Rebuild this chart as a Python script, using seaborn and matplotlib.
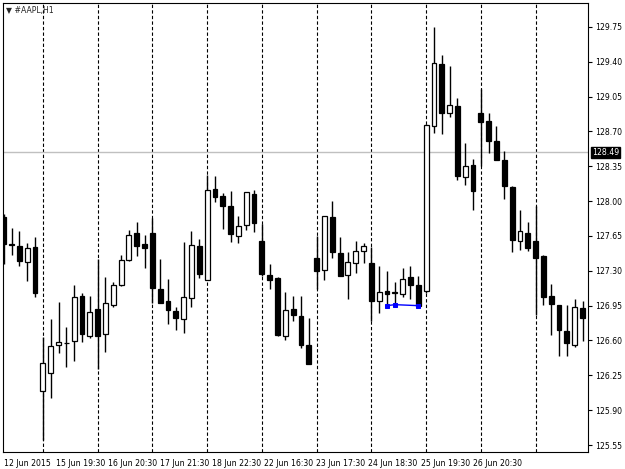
import numpy as np
import pandas as pd
import matplotlib
matplotlib.use("Agg")
import matplotlib.pyplot as plt
import seaborn as sns

opens = [127.84,127.57,127.55,127.39,127.54,126.09,126.27,126.55,126.57,126.59,
         127.05,126.65,126.92,126.67,126.96,127.16,127.41,127.68,127.57,127.68,
         127.12,127.00,126.90,126.82,127.03,127.55,127.21,128.12,128.05,127.95,
         127.65,127.76,128.07,127.60,127.26,127.23,126.65,126.92,126.85,126.55,
         127.43,127.31,127.84,127.48,127.26,127.38,127.50,127.38,127.00,127.10,
         127.08,127.07,127.24,127.16,127.10,128.75,129.38,128.89,128.96,128.24,
         128.36,128.89,128.80,128.60,128.41,128.14,127.60,127.68,127.60,127.45,
         127.05,126.96,126.70,126.55,126.93]
closes = [127.57,127.56,127.40,127.53,127.08,126.37,126.54,126.58,126.57,127.04,
          126.67,126.89,126.65,126.98,127.16,127.41,127.66,127.55,127.53,127.13,
          126.98,126.91,126.83,127.04,127.56,127.27,128.11,128.04,127.95,127.67,
          127.75,128.09,127.78,127.27,127.21,126.66,126.91,126.86,126.55,126.36,
          127.30,127.85,127.49,127.25,127.39,127.50,127.55,127.00,127.09,127.07,
          127.08,127.22,127.16,126.95,128.76,129.39,128.89,128.97,128.25,128.35,
          128.10,128.79,128.60,128.41,128.15,127.61,127.70,127.53,127.43,127.04,
          126.97,126.71,126.57,126.94,126.83]
highs = [127.87,127.73,127.70,127.58,127.64,126.64,126.82,126.99,126.74,127.16,
         127.08,127.05,127.42,127.24,127.19,127.46,127.71,127.79,127.66,127.83,
         127.42,127.22,126.94,127.59,127.70,127.62,128.26,128.25,128.08,128.10,
         127.85,128.09,128.11,127.77,127.37,127.24,127.09,127.05,127.05,126.83,
         127.65,127.85,128.00,127.64,127.49,127.60,127.58,127.54,127.35,127.30,
         127.19,127.33,127.35,127.25,128.77,129.75,129.47,129.36,129.04,128.58,
         128.42,129.13,128.89,128.75,128.50,128.15,127.91,127.79,127.95,127.46,
         127.17,126.96,126.96,127.02,127.00]
lows = [127.37,127.46,127.35,127.20,127.04,125.60,126.02,126.47,126.33,126.39,
        126.58,126.63,126.31,126.48,126.94,127.15,127.40,127.45,127.33,126.98,
        126.98,126.77,126.71,126.68,126.94,127.23,127.21,127.99,127.72,127.59,
        127.58,127.71,127.69,127.25,127.12,126.65,126.60,126.80,126.52,126.36,
        127.12,127.21,127.43,127.25,127.02,127.28,127.38,126.80,126.88,126.94,
        126.95,127.04,127.02,126.94,127.08,128.68,128.67,128.84,128.21,128.16,
        127.91,128.35,128.48,128.41,128.02,127.49,127.51,127.50,126.86,126.96,
        126.66,126.44,126.44,126.53,126.59]
day_starts = [5, 12, 19, 26, 33, 40, 47, 54, 61, 68]
date_labels = ["12 Jun 2015", "15 Jun 19:30", "16 Jun 20:30", "17 Jun 21:30",
               "18 Jun 22:30", "22 Jun 16:30", "23 Jun 17:30", "24 Jun 18:30",
               "25 Jun 19:30", "26 Jun 20:30"]
label_pos = [0, 6.63, 13.27, 19.94, 26.6, 33.25, 39.95, 46.6, 53.3, 59.95]
ind_x = [49, 50, 53]
ind_y = [126.95, 126.96, 126.95]
last_price = 128.49
yticks = [129.75,129.40,129.05,128.70,128.35,128.00,127.65,127.30,126.95,126.60,126.25,125.90,125.55]

df = pd.DataFrame({"o": opens, "c": closes, "h": highs, "l": lows})
df["x"] = np.arange(len(df))
df["up"] = df["c"] >= df["o"]

sns.set_style("white")
plt.rcParams['font.family'] = ['DejaVu Sans']
FS = 5.6
fig = plt.figure(figsize=(6.25, 4.69), dpi=100)
ax = fig.add_axes([3/625, 17/469, 585/625, 449/469])

for d in day_starts:
    ax.axvline(d, color="black", ls=(0, (3, 2)), lw=0.8, zorder=0)
ax.axhline(last_price, color="#c0c0c0", lw=1, zorder=0)

ax.vlines(df["x"], df["l"], df["h"], color="black", lw=1, zorder=1)
bot = np.minimum(df["o"], df["c"])
hgt = np.maximum(np.abs(df["c"] - df["o"]), 0.006)
cols = ["white" if u else "black" for u in df["up"]]
ax.bar(df["x"], hgt, bottom=bot, width=0.62, color=cols, edgecolor="black", lw=0.9, zorder=2)

sns.lineplot(x=ind_x, y=ind_y, ax=ax, color="#0000ff", lw=1, marker="s", markersize=2.5,
             markeredgecolor="#0000ff", zorder=3)

ax.set_xlim(-0.1, 74.7)
ax.set_ylim(125.48, 129.99)
ax.yaxis.tick_right()
ax.set_yticks(yticks)
ax.set_yticklabels([f"{t:.2f}" for t in yticks], fontsize=FS)
ax.set_xticks(label_pos)
ax.set_xticklabels(date_labels, fontsize=FS, ha="left")
ax.tick_params(axis="both", length=3, width=0.8, colors="black", direction="out", pad=2)
for s in ax.spines.values():
    s.set_color("black"); s.set_linewidth(0.8)

ax.text(1.007, (last_price - 125.48) / (129.99 - 125.48), f"{last_price:.2f}",
        transform=ax.transAxes, fontsize=FS, color="white", va="center", ha="left",
        bbox=dict(boxstyle="square,pad=0.15", fc="black", ec="black"), zorder=5, clip_on=False)
ax.text(0.005, 0.993, "\u25bc #AAPL,H1", transform=ax.transAxes, fontsize=FS, va="top", ha="left")
ax.set_xlabel(""); ax.set_ylabel("")
fig.savefig("out.png", dpi=100)
